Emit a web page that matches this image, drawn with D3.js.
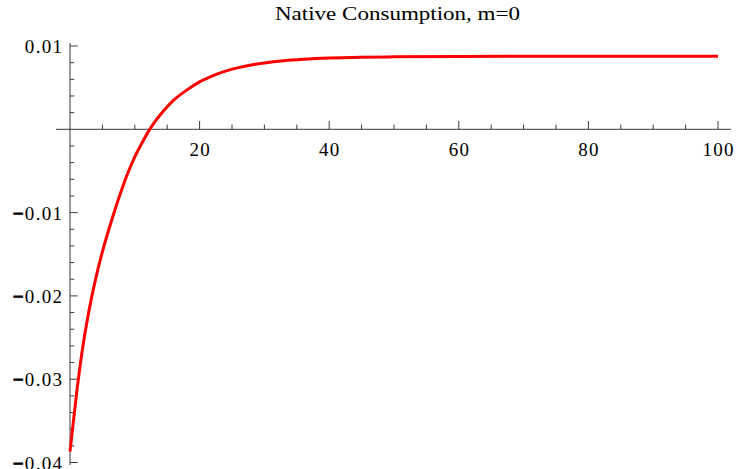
<!DOCTYPE html>
<html>
<head>
<meta charset="utf-8">
<script src="https://cdn.jsdelivr.net/npm/d3@7"></script>
<style>
  html, body { margin: 0; padding: 0; background: #fff; }
  svg { display: block; }
  text { font-family: "Liberation Serif", "DejaVu Serif", serif; fill: #000; }
</style>
</head>
<body>
<svg id="chart" width="737" height="469"></svg>
<script>
// Native consumption path over time, m = 0
const timeSteps = [0, 1, 2, 3, 4, 5, 6, 7, 8, 9, 10, 11, 12, 13, 14, 15, 16, 18, 20, 22, 24, 26, 28, 30, 33, 36, 40, 45, 50, 60, 70, 80, 90, 100];
const consumption = [-0.0387, -0.0318, -0.0260, -0.0215, -0.0178, -0.0147, -0.0120, -0.0095, -0.0072, -0.0051, -0.0033,
  -0.0018, -0.0004, 0.0008, 0.0018, 0.0027, 0.0035, 0.0047, 0.0057, 0.00642, 0.00698, 0.0074, 0.00773, 0.00797, 0.00823,
  0.0084, 0.00855, 0.00865, 0.0087, 0.00875, 0.00876, 0.00876, 0.00876, 0.00876];
const xTicks = [20, 40, 60, 80, 100];
const yTicks = [0.01, -0.01, -0.02, -0.03, -0.04];
const titleText = "Native Consumption, m=0";

const svg = d3.select("#chart");
const x = d3.scaleLinear().domain([0, 100]).range([70, 718]);
const y = d3.scaleLinear().domain([-0.04, 0.01]).range([462.5, 46]);

const axisColor = "#3a3a3a";
const fontSize = 19;
const spacing = 1.3;

// minor ticks
const xMinor = d3.range(0, 101, 5).filter(v => v % 20 !== 0);
const yMinor = d3.range(-40, 11, 2).map(v => v / 1000).filter(v => Math.abs(Math.round(v * 1000)) % 10 !== 0);

// x axis (through y = 0)
const gx = svg.append("g");
gx.append("line")
  .attr("x1", 56).attr("x2", 731)
  .attr("y1", y(0)).attr("y2", y(0))
  .attr("stroke", axisColor).attr("stroke-width", 1);
gx.selectAll("line.minor").data(xMinor).join("line").attr("class", "minor")
  .attr("x1", d => x(d)).attr("x2", d => x(d))
  .attr("y1", y(0)).attr("y2", y(0) - 4.7)
  .attr("stroke", axisColor).attr("stroke-width", 1);
gx.selectAll("line.major").data(xTicks).join("line").attr("class", "major")
  .attr("x1", d => x(d)).attr("x2", d => x(d))
  .attr("y1", y(0)).attr("y2", y(0) - 8.3)
  .attr("stroke", axisColor).attr("stroke-width", 1);
gx.selectAll("text").data(xTicks).join("text")
  .attr("x", d => x(d) + spacing / 2).attr("y", y(0) + 27)
  .attr("text-anchor", "middle")
  .attr("font-size", fontSize)
  .attr("letter-spacing", spacing)
  .text(d => d3.format("d")(d));

// y axis (through x = 0)
const gy = svg.append("g");
gy.append("line")
  .attr("x1", x(0)).attr("x2", x(0))
  .attr("y1", 43).attr("y2", 465)
  .attr("stroke", axisColor).attr("stroke-width", 1);
gy.selectAll("line.minor").data(yMinor).join("line").attr("class", "minor")
  .attr("x1", x(0)).attr("x2", x(0) + 4.3)
  .attr("y1", d => y(d)).attr("y2", d => y(d))
  .attr("stroke", axisColor).attr("stroke-width", 1);
gy.selectAll("line.major").data(yTicks).join("line").attr("class", "major")
  .attr("x1", x(0)).attr("x2", x(0) + 7.7)
  .attr("y1", d => y(d)).attr("y2", d => y(d))
  .attr("stroke", axisColor).attr("stroke-width", 1);
const yLabels = gy.selectAll("text").data(yTicks).join("text")
  .attr("x", 62 + spacing).attr("y", d => y(d) + 7)
  .attr("text-anchor", "end")
  .attr("font-size", fontSize)
  .attr("letter-spacing", spacing);
yLabels.each(function(d) {
  const t = d3.select(this);
  const s = d3.format(".2f")(Math.abs(d));
  if (d < 0) {
    t.append("tspan")
      .attr("font-weight", "bold")
      .attr("stroke", "#000").attr("stroke-width", 0.9)
      .text("\u2212");
  }
  t.append("tspan").text(s);
});

// title
svg.append("text")
  .attr("x", 275).attr("y", 20)
  .attr("font-size", 18)
  .attr("textLength", 245)
  .attr("lengthAdjust", "spacingAndGlyphs")
  .text(titleText);

// consumption curve
const line = d3.line()
  .x((d, i) => x(timeSteps[i]))
  .y(d => y(d))
  .curve(d3.curveMonotoneX);
svg.append("path")
  .datum(consumption)
  .attr("d", line)
  .attr("fill", "none")
  .attr("stroke", "#ff0000")
  .attr("stroke-width", 3)
  .attr("stroke-linejoin", "round");
</script>
</body>
</html>
